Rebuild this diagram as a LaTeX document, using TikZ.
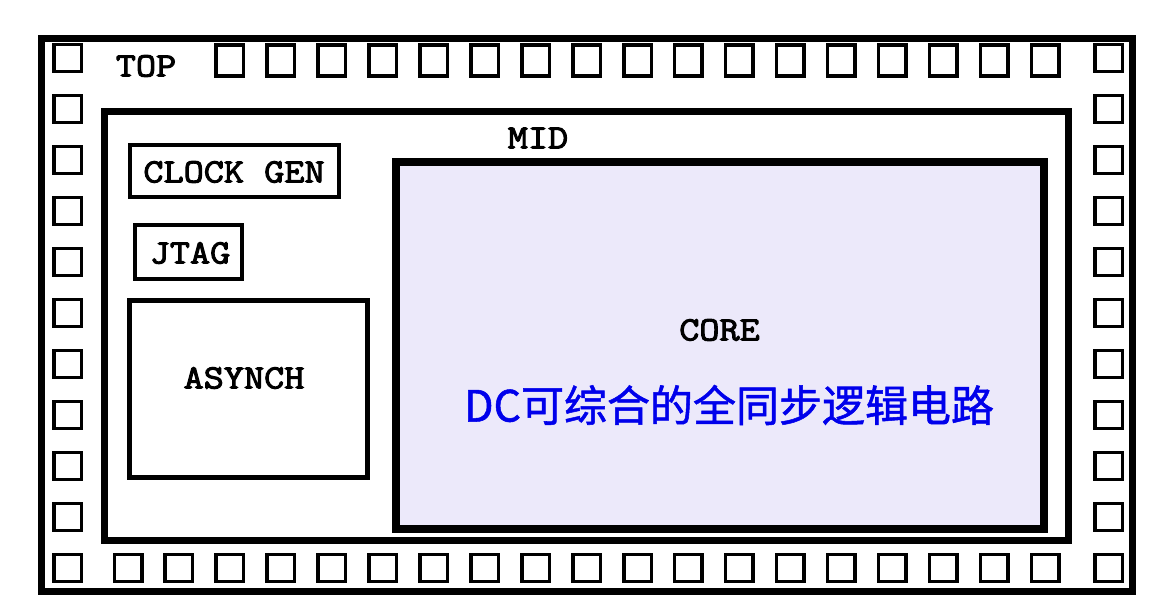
\documentclass[tikz,border=0pt]{standalone}
\usepackage{fontspec}
\newfontfamily\cour{Latin Modern Mono}[FakeBold=3,FakeStretch=1.15]
\newfontfamily\cjk{Noto Sans CJK SC}[FakeBold=1.2]
\definecolor{corefill}{RGB}{236,233,250}
\definecolor{cjkblue}{RGB}{0,0,235}
\begin{document}
\begin{tikzpicture}[x=1pt,y=-1pt,
  box/.style={draw,rectangle,inner sep=0pt,outer sep=0pt},
  pad/.style={box,line width=3.5pt,minimum width=27.5pt,minimum height=27pt},
  lbl/.style={font=\cour\fontsize{34}{34}\selectfont,inner sep=0pt}]
\useasboundingbox[fill=white] (0,0) rectangle (1156,612);
% outer TOP box
\node[box,line width=7pt,minimum width=1090.5pt,minimum height=552.5pt] (top) at (586.75,315.25) {};
% pads
\foreach \i in {0,...,10} {
  \node[pad] (L\i) at (67.5,{58+51*\i}) {};
  \node[pad] (R\i) at (1108.5,{58+51*\i}) {};
}
\foreach \k in {0,...,18}
  \node[pad] (B\k) at ({128+50.95*\k},568) {};
\foreach \k in {2,...,18}
  \node[pad,minimum height=31pt] (T\k) at ({128+50.95*\k},60.5) {};
\node[lbl] (toplbl) at (146,66) {TOP};
% MID box
\node[box,line width=7pt,minimum width=964pt,minimum height=429pt] (mid) at (586,326) {};
\node[lbl] (midlbl) at (538,138) {MID};
% inner blocks
\node[box,line width=4pt,minimum width=209.5pt,minimum height=52.5pt] (clk) at (234.25,171.25) {};
\node[lbl] (clklbl) at (234,172) {CLOCK GEN};
\node[box,line width=4pt,minimum width=107pt,minimum height=54pt] (jtag) at (188.5,252) {};
\node[lbl] (jtaglbl) at (190,253) {JTAG};
\node[box,line width=5pt,minimum width=238pt,minimum height=177pt] (async) at (248.5,389) {};
\node[lbl] (asynclbl) at (244,378) {ASYNCH};
% CORE
\node[box,line width=8pt,fill=corefill,minimum width=648pt,minimum height=367pt] (core) at (720,345.5) {};
\node[lbl] (corelbl) at (719.5,330) {CORE};
\node[inner sep=0pt,text=cjkblue,font=\cjk\fontsize{43}{43}\selectfont] (cjklbl) at (729,405) {DC可综合的全同步逻辑电路};
\end{tikzpicture}
\end{document}
